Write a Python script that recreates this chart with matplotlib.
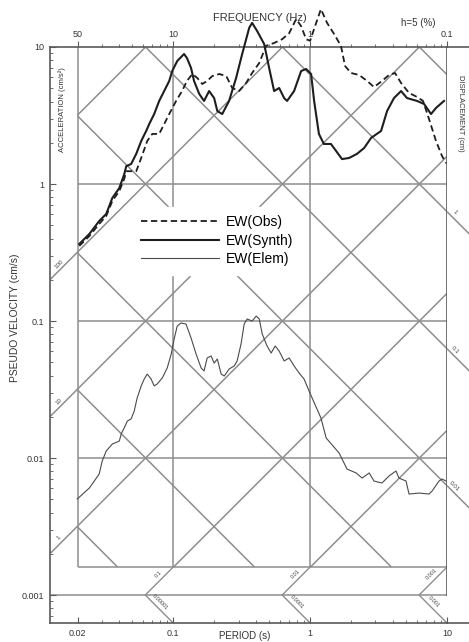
import numpy as np
import matplotlib.pyplot as plt

plt.rcParams['font.family'] = ['Liberation Sans', 'DejaVu Sans']

# pseudo velocity response spectra (period s, velocity cm/s)
period_obs = [0.0206, 0.0244, 0.0288, 0.0324, 0.0359, 0.0404, 0.0439, 0.0454, 0.0537, 0.0584,
              0.0646, 0.0703, 0.079, 0.0859, 0.0935, 0.105, 0.116, 0.126, 0.138, 0.150,
              0.163, 0.177, 0.193, 0.217, 0.244, 0.270, 0.303, 0.341, 0.377, 0.425,
              0.477, 0.546, 0.625, 0.703, 0.791, 0.860, 0.935, 1.0, 1.087, 1.20,
              1.33, 1.50, 1.68, 1.80, 1.99, 2.28, 2.61, 2.93, 3.35, 3.77,
              4.17, 4.62, 5.28, 6.04, 6.68, 7.39, 8.31, 9.20, 9.84]
sv_obs = [0.353, 0.417, 0.511, 0.584, 0.751, 0.889, 1.09, 1.24, 1.24, 1.55,
          2.06, 2.32, 2.32, 2.74, 3.24, 4.04, 4.77, 5.65, 6.35, 5.94,
          5.37, 5.65, 6.14, 6.35, 6.14, 5.02, 4.77, 5.46, 6.46, 7.64,
          10.2, 10.7, 11.4, 12.6, 16.0, 14.2, 11.4, 11.1, 14.2, 18.9,
          15.0, 12.4, 10.2, 7.27, 6.46, 6.25, 5.65, 5.10, 5.65, 6.25,
          6.46, 5.46, 4.62, 4.32, 4.04, 2.98, 2.06, 1.60, 1.42]

period_synth = [0.0206, 0.0244, 0.0288, 0.0324, 0.0359, 0.0404, 0.0439, 0.0454, 0.0493, 0.0537,
                0.0584, 0.0635, 0.0668, 0.0726, 0.079, 0.0859, 0.0935, 0.0984, 0.107, 0.120,
                0.126, 0.135, 0.142, 0.155, 0.168, 0.183, 0.199, 0.210, 0.228, 0.256,
                0.288, 0.319, 0.359, 0.377, 0.410, 0.462, 0.502, 0.546, 0.594, 0.646,
                0.679, 0.764, 0.860, 0.935, 1.017, 1.07, 1.16, 1.26, 1.42, 1.55,
                1.71, 1.93, 2.20, 2.48, 2.79, 3.30, 3.65, 4.10, 4.62, 5.10,
                6.04, 6.80, 7.64, 8.31, 9.51]
sv_synth = [0.365, 0.432, 0.537, 0.604, 0.79, 0.935, 1.18, 1.35, 1.40, 1.66,
            2.06, 2.44, 2.74, 3.24, 4.04, 4.77, 5.65, 6.68, 7.9, 8.89,
            8.31, 7.03, 5.65, 4.54, 4.04, 4.77, 4.24, 3.41, 3.24, 4.04,
            5.94, 8.89, 13.8, 15.0, 13.1, 10.5, 7.03, 4.77, 5.02, 4.24,
            4.04, 4.77, 6.68, 6.91, 6.35, 4.04, 2.32, 1.96, 1.96, 1.74,
            1.52, 1.55, 1.66, 1.83, 2.17, 2.44, 3.41, 4.24, 4.77, 4.24,
            4.04, 3.84, 3.24, 3.59, 4.04]

period_elem = [0.0199, 0.0244, 0.0288, 0.0303, 0.0324, 0.0359, 0.0404, 0.0417, 0.0439, 0.0462,
               0.0493, 0.0519, 0.0545, 0.0584, 0.0614, 0.0646, 0.0690, 0.0726, 0.0764, 0.0832,
               0.0904, 0.0967, 0.102, 0.107, 0.114, 0.124, 0.135, 0.147, 0.160, 0.168,
               0.177, 0.189, 0.199, 0.210, 0.224, 0.236, 0.256, 0.279, 0.293, 0.313,
               0.330, 0.347, 0.377, 0.404, 0.425, 0.447, 0.485, 0.519, 0.556, 0.594,
               0.646, 0.703, 0.764, 0.832, 0.904, 0.983, 1.20, 1.31, 1.63, 1.86,
               2.17, 2.40, 2.70, 2.93, 3.35, 3.77, 4.24, 4.46, 5.02, 5.28,
               6.25, 7.39, 7.78, 8.74, 9.20, 9.84]
sv_elem = [0.00502, 0.00604, 0.00764, 0.00951, 0.01125, 0.01265, 0.0133, 0.0150, 0.0166, 0.0186,
           0.0193, 0.0220, 0.0274, 0.0336, 0.0377, 0.0410, 0.0377, 0.0336, 0.0347, 0.0384,
           0.0454, 0.0574, 0.0752, 0.0920, 0.0967, 0.0951, 0.0752, 0.0574, 0.0454, 0.0432,
           0.0537, 0.0556, 0.0493, 0.0528, 0.0410, 0.0397, 0.0446, 0.0470, 0.0511, 0.0680,
           0.0951, 0.1035, 0.100, 0.1087, 0.1035, 0.0804, 0.0657, 0.0584, 0.0657, 0.0604,
           0.0511, 0.0537, 0.0470, 0.0417, 0.0377, 0.0308, 0.0196, 0.0140, 0.01087, 0.00831,
           0.00778, 0.00714, 0.00778, 0.00679, 0.00657, 0.00739, 0.00804, 0.00714, 0.00679, 0.00546,
           0.00555, 0.00546, 0.00574, 0.00679, 0.00703, 0.00679]

period_ticks = [0.02, 0.1, 1, 10]
period_labels = ["0.02", "0.1", "1", "10"]
freq_labels = ["50", "10", "1", "0.1"]
sv_ticks = [0.001, 0.01, 0.1, 1, 10]
sv_labels = ["0.001", "0.01", "0.1", "1", "10"]

acc_levels = [0.001, 0.01, 0.1, 1, 10, 100, 1000]
disp_levels = [1e-5, 1e-4, 1e-3, 1e-2, 0.1, 1, 10]
acc_left_labels = {1: "1", 10: "10", 100: "100"}
disp_right_labels = {0.01: "0.01", 0.1: "0.1", 1: "1"}
leader_periods = [0.1, 1, 10]
leader_acc_labels = ["0.1", "0.01", "0.001"]
leader_disp_labels = ["0.00001", "0.0001", "0.001"]

TWO_PI = 2 * np.pi
t_box = (0.02, 10)
sv_box = (0.0016, 10)
t_axis = (10 ** -1.9, 10)
sv_axis = (0.000625, 10)

GRID = '#8e8e8e'
SPINE = '#5a5a5a'

fig = plt.figure(figsize=(4.69, 6.42), dpi=100)
ax = fig.add_axes([50 / 469, 19 / 642, 397 / 469, 576 / 642])
ax.set_xscale('log')
ax.set_yscale('log')
ax.set_xlim(t_axis)
ax.set_ylim(sv_axis)

gkw = dict(color=GRID, lw=1.1, zorder=1, solid_capstyle='butt')

# frame of the tripartite grid
ax.plot([t_box[0], t_box[0]], [sv_box[0], sv_box[1]], **gkw)
ax.plot([t_box[0], t_box[1]], [sv_box[0], sv_box[0]], **gkw)
for t in [0.1, 1]:
    ax.plot([t, t], [sv_box[0], sv_box[1]], **gkw)
for v in [0.01, 0.1, 1]:
    ax.plot([t_box[0], t_box[1]], [v, v], **gkw)
ax.plot([t_axis[0], t_box[1]], [0.001, 0.001], **gkw)
ax.plot([10, 10], [0.001, 10], color=SPINE, lw=1.2, zorder=2)
ax.plot([10, 16], [10, 10], color=SPINE, lw=1.2, zorder=2, clip_on=False)
ax.plot([10, 16], [sv_axis[0], sv_axis[0]], color=SPINE, lw=1.2, zorder=2, clip_on=False)

# constant acceleration lines (sv = a T / 2pi)
for a in acc_levels:
    t0 = max(t_box[0], TWO_PI * sv_box[0] / a)
    t1 = min(t_box[1], TWO_PI * sv_box[1] / a)
    if t0 < t1:
        ax.plot([t0, t1], [a * t0 / TWO_PI, a * t1 / TWO_PI], **gkw)
    if a in acc_left_labels:
        ax.plot([t_axis[0], t_box[0]], [a * t_axis[0] / TWO_PI, a * t_box[0] / TWO_PI], **gkw)
        tl = t_axis[0] * 1.2
        ax.text(tl, a * tl / TWO_PI * 1.05, acc_left_labels[a], fontsize=4.5, rotation=45,
                rotation_mode='anchor', ha='center', va='bottom', color='#444')

# constant displacement lines (sv = 2pi d / T)
for d in disp_levels:
    t0 = max(t_box[0], TWO_PI * d / sv_box[1])
    t1 = min(t_box[1], TWO_PI * d / sv_box[0])
    if t0 < t1:
        ax.plot([t0, t1], [TWO_PI * d / t0, TWO_PI * d / t1], **gkw)
    if d in disp_right_labels:
        ax.plot([10, 15], [TWO_PI * d / 10, TWO_PI * d / 15], clip_on=False, **gkw)
        tr = 10 * 1.1
        ax.text(tr, TWO_PI * d / tr * 1.05, disp_right_labels[d], fontsize=4.5, rotation=-45,
                rotation_mode='anchor', ha='center', va='bottom', color='#444')

# leaders below the grid
for t, la, ld in zip(leader_periods, leader_acc_labels, leader_disp_labels):
    tm = t * 0.001 / sv_box[0]
    ax.plot([t, tm, t], [sv_box[0], 0.001, sv_axis[0]], color=GRID, lw=1.0, zorder=1)
    ta = t * 0.8
    ax.text(ta, ta * 0.001 / tm * 1.08, la, fontsize=4, rotation=45, rotation_mode='anchor',
            ha='center', va='bottom', color='#444')
    td = tm * 1.25
    ax.text(td, 0.001 * tm / td * 1.08, ld, fontsize=4, rotation=-45, rotation_mode='anchor',
            ha='center', va='bottom', color='#444')

# spectra
ax.plot(period_obs, sv_obs, color='#1e1e1e', lw=1.3, ls=(0, (3.5, 2)), zorder=3,
        clip_on=False, label='EW(Obs)')
ax.plot(period_synth, sv_synth, color='#1e1e1e', lw=1.5, zorder=3, clip_on=False,
        label='EW(Synth)')
ax.plot(period_elem, sv_elem, color='#4a4a4a', lw=0.8, zorder=3, clip_on=False,
        label='EW(Elem)')

leg = ax.legend(loc='upper left', bbox_to_anchor=(133 / 469, 1 - 207 / 642),
                bbox_transform=fig.transFigure, frameon=True, fancybox=False,
                edgecolor='white', facecolor='white', framealpha=1, fontsize=10,
                handlelength=5.6, handletextpad=0.5, labelspacing=0.32,
                borderpad=0.6, borderaxespad=0)
leg.set_zorder(5)

# axes
for side in ['left', 'top', 'bottom']:
    ax.spines[side].set_color(SPINE)
    ax.spines[side].set_linewidth(1.2)
ax.spines['right'].set_visible(False)
ax.set_xticks(period_ticks)
ax.set_xticklabels(period_labels)
ax.set_yticks(sv_ticks)
ax.set_yticklabels(sv_labels)
ax.xaxis.set_minor_formatter(plt.NullFormatter())
ax.yaxis.set_minor_formatter(plt.NullFormatter())
ax.tick_params(which='both', direction='in', colors=SPINE, labelcolor='#333',
               labelsize=6.5, top=False, right=False)
ax.tick_params(which='major', length=4, width=0.8, pad=4)
ax.tick_params(which='minor', length=2.5, width=0.6)

ax2 = ax.twiny()
ax2.set_xscale('log')
ax2.set_xlim(t_axis)
ax2.set_xticks(period_ticks)
ax2.set_xticklabels(freq_labels)
ax2.xaxis.set_minor_formatter(plt.NullFormatter())
for side in ax2.spines:
    ax2.spines[side].set_visible(False)
ax2.tick_params(which='both', direction='out', colors=SPINE, labelcolor='#333',
                labelsize=6.5, pad=1.5)
ax2.tick_params(which='major', length=4, width=0.8)
ax2.tick_params(which='minor', length=2.5, width=0.6)

fig.text(15 / 469, 1 - 318 / 642, 'PSEUDO VELOCITY (cm/s)', rotation=90, fontsize=7.4,
         ha='center', va='center', color='#333')
fig.text(260 / 469, 1 - 18 / 642, 'FREQUENCY (Hz)', fontsize=8, ha='center', va='center',
         color='#333')
fig.text(418 / 469, 1 - 23 / 642, 'h=5 (%)', fontsize=7, ha='center', va='center', color='#333')
fig.text(62 / 469, 1 - 110 / 642, 'ACCELERATION (cm/s²)', rotation=90, fontsize=5.5,
         ha='center', va='center', color='#333')
fig.text(460 / 469, 1 - 113 / 642, 'DISPLACEMENT (cm)', rotation=-90, fontsize=5.5,
         ha='center', va='center', color='#333')
fig.text(245 / 469, 1 - 641 / 642, 'PERIOD (s)', fontsize=7, ha='center', va='bottom',
         color='#333')

fig.savefig('out.png', dpi=100, facecolor='white')
